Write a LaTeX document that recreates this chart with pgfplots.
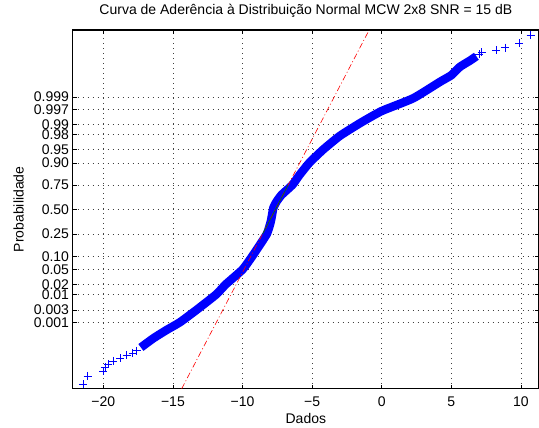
\documentclass[border=0pt]{standalone}
\usepackage{pgfplots}
\pgfplotsset{compat=1.18}
\usepackage{fontspec}
\setmainfont{Liberation Sans}

\newcommand{\lbl}{\fontsize{14bp}{16bp}\selectfont}

\begin{document}
\begin{tikzpicture}
\begin{axis}[
    scale only axis,
    width=466.3bp, height=358.7bp,
    xmin=-22.2, xmax=11.3,
    ymin=-4.91, ymax=4.92,
    axis line style={line width=1.1bp},
    tick align=inside,
    major tick length=4bp,
    tick style={black, line width=0.5bp},
    xtick={-20,-15,-10,-5,0,5,10},
    xticklabels={−20,−15,−10,−5,0,5,10},
    ytick={-3.0902,-2.7478,-2.3263,-2.0537,-1.6449,-1.2816,-0.6745,0,0.6745,1.2816,1.6449,2.0537,2.3263,2.7478,3.0902},
    yticklabels={0.001,0.003,0.01,0.02,0.05,0.10,0.25,0.50,0.75,0.90,0.95,0.98,0.99,0.997,0.999},
    grid=major,
    major grid style={black!75, line width=0.5bp, dash pattern=on 0.7bp off 4.3bp},
    tick label style={font=\lbl},
    xticklabel style={inner sep=0pt, yshift=-8bp},
    yticklabel style={inner sep=0pt, xshift=-3.5bp},
    title={Curva de Aderência à Distribuição Normal MCW 2x8 SNR = 15 dB},
    title style={font=\lbl, at={(axis description cs:0.5,1)}, anchor=base, inner sep=0pt, yshift=9.5bp},
    xlabel={Dados},
    xlabel style={font=\lbl, at={(axis description cs:0.5,0)}, anchor=base, inner sep=0pt, yshift=-34.3bp},
    ylabel={Probabilidade},
    ylabel style={font=\lbl, at={(axis description cs:-0.116,0.5)}, anchor=center, inner sep=0pt},
]
% main band of sample quantiles
\addplot[blue, line width=8.5bp, smooth, tension=0.3] coordinates {
    (-17.3,-3.78) (-16.41,-3.53) (-15.45,-3.30) (-14.5,-3.09)
    (-13.3,-2.75) (-11.9,-2.33) (-11.2,-2.05) (-10.0,-1.645) (-9.3,-1.28)
    (-8.26,-0.674) (-7.97,-0.33) (-7.88,-0.15) (-7.78,0.05) (-7.55,0.22)
    (-7.2,0.40) (-6.42,0.674) (-5.9,0.95) (-5.2,1.28) (-4.2,1.645)
    (-3.0,2.02) (-1.5,2.38) (0,2.70)
    (2.27,3.05) (4.19,3.50) (5.0,3.68) (5.62,3.91) (6.34,4.08) (6.8,4.2)
};
% isolated samples in the tails
\addplot[only marks, blue, mark=+, mark size=4bp, mark options={line width=0.6bp}] coordinates {
    (-21.44,-4.79) (-21.12,-4.56) (-20.0,-4.42) (-19.88,-4.31) (-19.64,-4.23)
    (-19.28,-4.15) (-18.8,-4.08) (-18.32,-3.99) (-17.9,-3.93) (-17.6,-3.87)
    (7.0,4.26) (7.18,4.31) (8.21,4.37) (8.86,4.44) (9.89,4.55) (10.7,4.78)
};
% fitted normal line
\addplot[red, line width=0.6bp, dash pattern=on 6bp off 2.5bp on 1bp off 2.5bp] coordinates {
    (-14.37,-4.91) (-0.9,4.92)
};
\addplot[green!45!black, line width=0.6bp] coordinates {
    (-8.56,-0.674) (-6.72,0.674)
};
\end{axis}
\pgfresetboundingbox
\path[use as bounding box] (-72.7bp,-39.3bp) rectangle (466.3bp,388.7bp);
\end{tikzpicture}
\end{document}
